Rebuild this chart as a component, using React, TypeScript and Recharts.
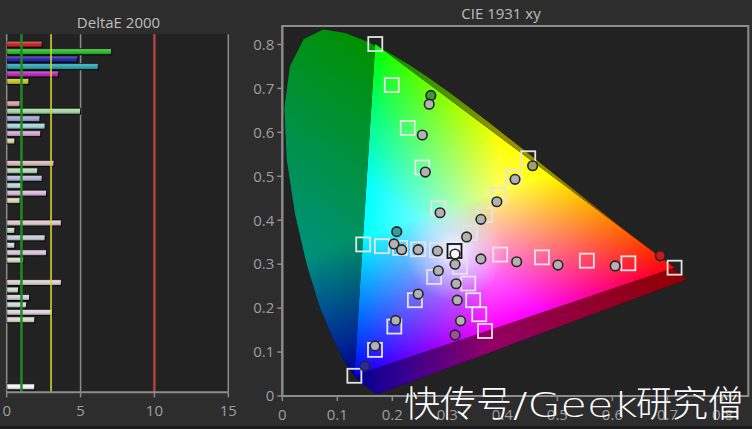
import React from 'react';
import {
  BarChart, Bar, Cell, XAxis, YAxis, CartesianGrid, ReferenceLine, ReferenceArea,
  ScatterChart, Scatter,
} from 'recharts';

const FONT = "'Open Sans', 'Noto Sans', sans-serif";

// ---------------- DeltaE 2000 (left) ----------------
const deltaTicks = [0, 5, 10, 15];
const deltaSaturated = [2.4, 7.1, 4.8, 6.2, 3.5, 1.5];
const delta80 = [0.9, 5.0, 2.25, 2.6, 2.3, 0.55];
const delta60 = [3.2, 2.1, 2.4, 1.05, 2.7, 0.9];
const delta40 = [3.7, 0.55, 2.6, 0.55, 2.7, 1.15];
const delta20 = [3.7, 0.8, 1.55, 1.35, 3.1, 1.9];
const deltaWhite = [1.9];

const colorsSaturated = ['#d02828', '#2cc02c', '#2a2ab4', '#2aaab4', '#c02cc0', '#c8c42c'];
const colors80 = ['#dca2a2', '#a2d8a2', '#a6a8d8', '#a6d6d8', '#d8a6d8', '#d8d8a6'];
const colors60 = ['#dab8bc', '#b8dab8', '#b8b8da', '#b8dada', '#dab8da', '#dadab8'];
const colors40 = ['#dcc6cc', '#c6dcc6', '#c6ccdc', '#c6dcdc', '#dcc6dc', '#d4dcc6'];
const colors20 = ['#dcd0d0', '#d0dcd0', '#d0d2dc', '#d0dcdc', '#dcd0dc', '#dcdcd0'];
const colorsWhite = ['#f4f4f4'];

const deltaGroups = [
  { values: deltaSaturated, colors: colorsSaturated, gapAfter: 2 },
  { values: delta80, colors: colors80, gapAfter: 2 },
  { values: delta60, colors: colors60, gapAfter: 2 },
  { values: delta40, colors: colors40, gapAfter: 2 },
  { values: delta20, colors: colors20, gapAfter: 8 },
  { values: deltaWhite, colors: colorsWhite, gapAfter: 0 },
];

type Row = { name: string; value: number | null; color: string };
const deltaRows: Row[] = [];
deltaGroups.forEach((g, gi) => {
  g.values.forEach((v, i) => deltaRows.push({ name: `g${gi}-${i}`, value: v, color: g.colors[i] }));
  for (let k = 0; k < g.gapAfter; k++) deltaRows.push({ name: `gap${gi}-${k}`, value: null, color: '#000' });
});

// ---------------- CIE 1931 xy (right) ----------------
const cieTicks = [0, 0.1, 0.2, 0.3, 0.4, 0.5, 0.6, 0.7, 0.8];
const cieXMax = 0.847;
const cieYMax = 0.842;

const spectralLocus: [number, number][] = [
  [0.1741, 0.0050], [0.1740, 0.0050], [0.1738, 0.0049], [0.1736, 0.0049], [0.1733, 0.0048],
  [0.1730, 0.0048], [0.1726, 0.0048], [0.1721, 0.0048], [0.1714, 0.0051], [0.1703, 0.0058],
  [0.1689, 0.0069], [0.1669, 0.0086], [0.1644, 0.0109], [0.1611, 0.0138], [0.1566, 0.0177],
  [0.1510, 0.0227], [0.1440, 0.0297], [0.1355, 0.0399], [0.1241, 0.0578], [0.1096, 0.0868],
  [0.0913, 0.1327], [0.0687, 0.2007], [0.0454, 0.2950], [0.0235, 0.4127], [0.0082, 0.5384],
  [0.0039, 0.6548], [0.0139, 0.7502], [0.0389, 0.8120], [0.0743, 0.8338], [0.1142, 0.8262],
  [0.1547, 0.8059], [0.1929, 0.7816], [0.2296, 0.7543], [0.2658, 0.7243], [0.3016, 0.6923],
  [0.3373, 0.6589], [0.3731, 0.6245], [0.4087, 0.5896], [0.4441, 0.5547], [0.4788, 0.5202],
  [0.5125, 0.4866], [0.5448, 0.4544], [0.5752, 0.4242], [0.6029, 0.3965], [0.6270, 0.3725],
  [0.6482, 0.3514], [0.6658, 0.3340], [0.6801, 0.3197], [0.6915, 0.3083], [0.7006, 0.2993],
  [0.7079, 0.2920], [0.7140, 0.2859], [0.7190, 0.2809], [0.7230, 0.2770], [0.7260, 0.2740],
  [0.7283, 0.2717], [0.7300, 0.2700], [0.7320, 0.2680], [0.7334, 0.2666], [0.7347, 0.2653],
];

const targetRed: [number, number][] = [[0.713, 0.292], [0.629, 0.302], [0.5535, 0.308], [0.472, 0.3155], [0.396, 0.322]];
const measuredRed: [number, number][] = [[0.687, 0.319], [0.605, 0.296], [0.501, 0.298], [0.426, 0.3055], [0.361, 0.312]];
const targetGreen: [number, number][] = [[0.169, 0.801], [0.199, 0.7075], [0.228, 0.61], [0.2545, 0.52], [0.2836, 0.427]];
const measuredGreen: [number, number][] = [[0.27, 0.684], [0.267, 0.664], [0.2545, 0.594], [0.26, 0.5096], [0.2867, 0.417]];
const targetBlue: [number, number][] = [[0.131, 0.046], [0.1685, 0.105], [0.2036, 0.158], [0.241, 0.218], [0.276, 0.271]];
const measuredBlue: [number, number][] = [[0.15, 0.068], [0.1685, 0.114], [0.206, 0.172], [0.247, 0.232], [0.2836, 0.285]];
const targetCyan: [number, number][] = [[0.147, 0.345], [0.181, 0.341], [0.214, 0.337], [0.247, 0.334], [0.281, 0.332]];
const measuredCyan: [number, number][] = [[0.208, 0.374], [0.203, 0.346], [0.217, 0.333], [0.247, 0.333], [0.282, 0.33]];
const targetMagenta: [number, number][] = [[0.3685, 0.148], [0.358, 0.186], [0.347, 0.218], [0.338, 0.256], [0.323, 0.294]];
const measuredMagenta: [number, number][] = [[0.314, 0.139], [0.324, 0.171], [0.318, 0.218], [0.316, 0.2555], [0.314, 0.3]];
const targetYellow: [number, number][] = [[0.447, 0.541], [0.42, 0.499], [0.393, 0.457], [0.3685, 0.412], [0.341, 0.371]];
const measuredYellow: [number, number][] = [[0.455, 0.524], [0.423, 0.493], [0.39, 0.442], [0.361, 0.402], [0.335, 0.362]];
const targetWhite: [number, number][] = [[0.313, 0.33]];
const measuredWhite: [number, number][] = [[0.314, 0.323]];

const measuredSeries = [
  { data: measuredRed, accent: '#c81a1a' },
  { data: measuredGreen, accent: '#3a983a' },
  { data: measuredBlue, accent: '#2a2a9c' },
  { data: measuredCyan, accent: '#3a9a9a' },
  { data: measuredMagenta, accent: '#a0509a' },
  { data: measuredYellow, accent: '#a0a06a' },
];
const targetSeries = [targetRed, targetGreen, targetBlue, targetCyan, targetMagenta, targetYellow];

const toXY = (arr: [number, number][]) => arr.map(([x, y]) => ({ x, y }));
const locusData = toXY(spectralLocus);
const gamutData = toXY([targetRed[0], targetGreen[0], targetBlue[0]]);

// ---------------- drawing helpers ----------------
type P = { x: number; y: number };
const foot = (v: P, a: P, b: P): P => {
  const dx = b.x - a.x, dy = b.y - a.y;
  const t = ((v.x - a.x) * dx + (v.y - a.y) * dy) / (dx * dx + dy * dy);
  return { x: a.x + t * dx, y: a.y + t * dy };
};
const pathOf = (pts: P[]) =>
  pts.map((q, i) => `${i ? 'L' : 'M'}${q.x.toFixed(2)},${q.y.toFixed(2)}`).join(' ') + ' Z';

const primaryGradient = (id: string, v: P, a: P, b: P, color: string, fullUntil: number) => {
  const f = foot(v, a, b);
  return (
    <linearGradient key={id} id={id} gradientUnits="userSpaceOnUse" x1={v.x} y1={v.y} x2={f.x} y2={f.y}>
      <stop offset={0} stopColor={color} />
      <stop offset={fullUntil} stopColor={color} />
      <stop offset={1} stopColor="#000" />
    </linearGradient>
  );
};

const RgbLayers = ({ d, prefix, dim }: { d: string; prefix: string; dim?: number }) => (
  <g style={{ isolation: 'isolate' }}>
    <path d={d} fill={`url(#${prefix}R)`} />
    <path d={d} fill={`url(#${prefix}G)`} style={{ mixBlendMode: 'screen' }} />
    <path d={d} fill={`url(#${prefix}B)`} style={{ mixBlendMode: 'screen' }} />
    {dim ? <path d={d} fill="#000" fillOpacity={dim} /> : null}
  </g>
);

const LocusFill = (props: any) => {
  const pts: P[] = props.points || [];
  if (pts.length < 3) return <g />;
  return <RgbLayers d={pathOf(pts)} prefix="loc" dim={0.43} />;
};

const GamutFill = (props: any) => {
  const pts: P[] = props.points || [];
  if (pts.length < 3) return <g />;
  const [r, g, b] = pts;
  const d = pathOf(pts);
  return (
    <g>
      <defs>
        {primaryGradient('cieR', r, g, b, '#ff0000', 0.58)}
        {primaryGradient('cieG', g, b, r, '#00ff00', 0.58)}
        {primaryGradient('cieB', b, r, g, '#0000ff', 0.58)}
        {primaryGradient('locR', r, g, b, '#ff0000', 0.58)}
        {primaryGradient('locG', g, b, r, '#00ff00', 0.58)}
        {primaryGradient('locB', b, r, g, '#0000ff', 0.12)}
        <radialGradient id="cieWhite">
          <stop offset={0} stopColor="#fff" stopOpacity={0.95} />
          <stop offset={0.4} stopColor="#fff" stopOpacity={0.45} />
          <stop offset={1} stopColor="#fff" stopOpacity={0} />
        </radialGradient>
        <clipPath id="gamutClip"><path d={d} /></clipPath>
      </defs>
      <RgbLayers d={d} prefix="cie" />
    </g>
  );
};

const NoDot = () => <g />;
const WhiteGlow = (p: any) =>
  p.cx == null ? <g /> : (
    <g clipPath="url(#gamutClip)">
      <circle cx={p.cx} cy={p.cy} r={50} fill="url(#cieWhite)" />
    </g>
  );
const makeSquare = (stroke: string) => (p: any) =>
  p.cx == null ? <g /> : (
    <rect x={p.cx - 7} y={p.cy - 7} width={14} height={14} fill="none" stroke={stroke} strokeWidth={1.8} />
  );
const WhiteSquare = makeSquare('#e4e4e4');
const BlackSquare = makeSquare('#111111');
const MeasuredDot = (p: any) =>
  p.cx == null ? <g /> : (
    <circle cx={p.cx} cy={p.cy} r={4.8} fill={p.fill} stroke="#262626" strokeWidth={1.6} />
  );

const GlossyBar = (p: any) => {
  const { x, y, width, height, fill } = p;
  if (!width || width <= 0 || !height) return <g />;
  return (
    <g>
      <rect x={x} y={y} width={width} height={height} fill={fill} stroke="#050505" strokeWidth={1} />
      <rect x={x} y={y} width={width} height={height} fill="url(#barGloss)" />
    </g>
  );
};

const axisGray = '#8c8c8c';
const tickStyle = { fill: '#9e9e9e', fontSize: 15, fontFamily: FONT };
const CJK = "'Noto Sans CJK SC', sans-serif";

export default function App() {
  return (
    <div style={{ position: 'absolute', left: 0, top: 0, width: 752, height: 429, background: '#2d2d2d', overflow: 'hidden', fontFamily: FONT }}>
      <div style={{ position: 'absolute', left: 0, top: 0 }}>
        <BarChart
          layout="vertical"
          width={240}
          height={429}
          data={deltaRows}
          margin={{ top: 34.3, right: 11.7, bottom: 0, left: 6.7 }}
          barSize={6}
        >
          <defs>
            <linearGradient id="barGloss" x1="0" y1="0" x2="0" y2="1">
              <stop offset="0" stopColor="#fff" stopOpacity={0.35} />
              <stop offset="0.45" stopColor="#fff" stopOpacity={0} />
              <stop offset="0.55" stopColor="#000" stopOpacity={0} />
              <stop offset="1" stopColor="#000" stopOpacity={0.3} />
            </linearGradient>
          </defs>
          <CartesianGrid horizontal={false} stroke={axisGray} strokeWidth={1.5} fill="#222222" fillOpacity={1} />
          <XAxis
            type="number"
            domain={[0, 15]}
            ticks={deltaTicks}
            interval={0}
            allowDataOverflow
            height={36.7}
            tickSize={5}
            tickMargin={8}
            axisLine={{ stroke: axisGray, strokeWidth: 2 }}
            tickLine={{ stroke: axisGray, strokeWidth: 1.5 }}
            tick={tickStyle}
          />
          <XAxis
            xAxisId="top"
            orientation="top"
            type="number"
            domain={[0, 15]}
            height={0}
            tick={false}
            tickLine={false}
            axisLine={{ stroke: axisGray, strokeWidth: 2 }}
          />
          <YAxis type="category" dataKey="name" hide padding={{ top: 6, bottom: 2 }} />
          <Bar dataKey="value" isAnimationActive={false} shape={GlossyBar}>
            {deltaRows.map((r) => <Cell key={r.name} fill={r.color} />)}
          </Bar>
          <ReferenceLine x={1} stroke="#1f8a1f" strokeWidth={2.5} />
          <ReferenceLine x={3} stroke="#d4d430" strokeWidth={1.6} />
          <ReferenceLine x={10} stroke="#c83c3c" strokeWidth={2} />
        </BarChart>
      </div>

      <div style={{ position: 'absolute', left: 240, top: 0 }}>
        <ScatterChart width={512} height={429} margin={{ top: 26, right: 3.7, bottom: 0, left: 0 }}>
          <CartesianGrid horizontal={false} vertical={false} fill="#222222" fillOpacity={1} />
          <XAxis
            type="number"
            dataKey="x"
            domain={[0, cieXMax]}
            ticks={cieTicks}
            interval={0}
            allowDataOverflow
            height={33}
            tickSize={5}
            tickMargin={8}
            tickFormatter={(v: number) => (v === 0 ? '0' : v.toFixed(1))}
            axisLine={{ stroke: axisGray, strokeWidth: 2 }}
            tickLine={{ stroke: axisGray, strokeWidth: 1.5 }}
            tick={tickStyle}
          />
          <YAxis
            type="number"
            dataKey="y"
            domain={[0, cieYMax]}
            ticks={cieTicks}
            interval={0}
            allowDataOverflow
            width={42.3}
            tickSize={5}
            tickMargin={3}
            tickFormatter={(v: number) => (v === 0 ? '0' : v.toFixed(1))}
            axisLine={{ stroke: axisGray, strokeWidth: 2 }}
            tickLine={{ stroke: axisGray, strokeWidth: 1.5 }}
            tick={tickStyle}
          />
          <Scatter data={locusData} shape={NoDot} line={LocusFill} isAnimationActive={false} />
          <Scatter data={gamutData} shape={NoDot} line={GamutFill} isAnimationActive={false} />
          <Scatter data={toXY(targetWhite)} shape={WhiteGlow} isAnimationActive={false} />
          <ReferenceArea x1={0} x2={cieXMax} y1={0} y2={cieYMax} fill="none" fillOpacity={0} stroke={axisGray} strokeWidth={2} />
          {targetSeries.map((t, i) => (
            <Scatter key={`t${i}`} data={toXY(t)} shape={WhiteSquare} isAnimationActive={false} />
          ))}
          <Scatter data={toXY(targetWhite)} shape={BlackSquare} isAnimationActive={false} />
          {measuredSeries.map((s, i) => (
            <Scatter key={`m${i}`} data={toXY(s.data)} shape={MeasuredDot} isAnimationActive={false}>
              {s.data.map((_, j) => <Cell key={j} fill={j === 0 ? s.accent : '#b2b2b2'} />)}
            </Scatter>
          ))}
          <Scatter data={toXY(measuredWhite)} shape={MeasuredDot} isAnimationActive={false}>
            <Cell fill="#ffffff" />
          </Scatter>
        </ScatterChart>
      </div>

      <div style={{ position: 'absolute', left: 0, top: 426, width: 752, height: 3, background: '#1b1b1b' }} />

      <svg width={752} height={429} style={{ position: 'absolute', left: 0, top: 0, pointerEvents: 'none' }}>
        <text x={118.5} y={27.7} textAnchor="middle" fill="#bdbdbd" fontSize={15} fontFamily={FONT}>DeltaE 2000</text>
        <text x={501} y={19.4} textAnchor="middle" fill="#bdbdbd" fontSize={15} fontFamily={FONT}>CIE 1931 xy</text>
        <text y={417} fill="#ffffff">
          <tspan x={404} fontSize={36} fontWeight={200} fontFamily={CJK}>快传号</tspan>
          <tspan x={513} fontSize={33} fontWeight={200} fontFamily="'DejaVu Sans', sans-serif" textLength={125} lengthAdjust="spacingAndGlyphs">/Geek</tspan>
          <tspan x={636} fontSize={36} fontWeight={200} fontFamily={CJK}>研究僧</tspan>
        </text>
      </svg>
    </div>
  );
}
